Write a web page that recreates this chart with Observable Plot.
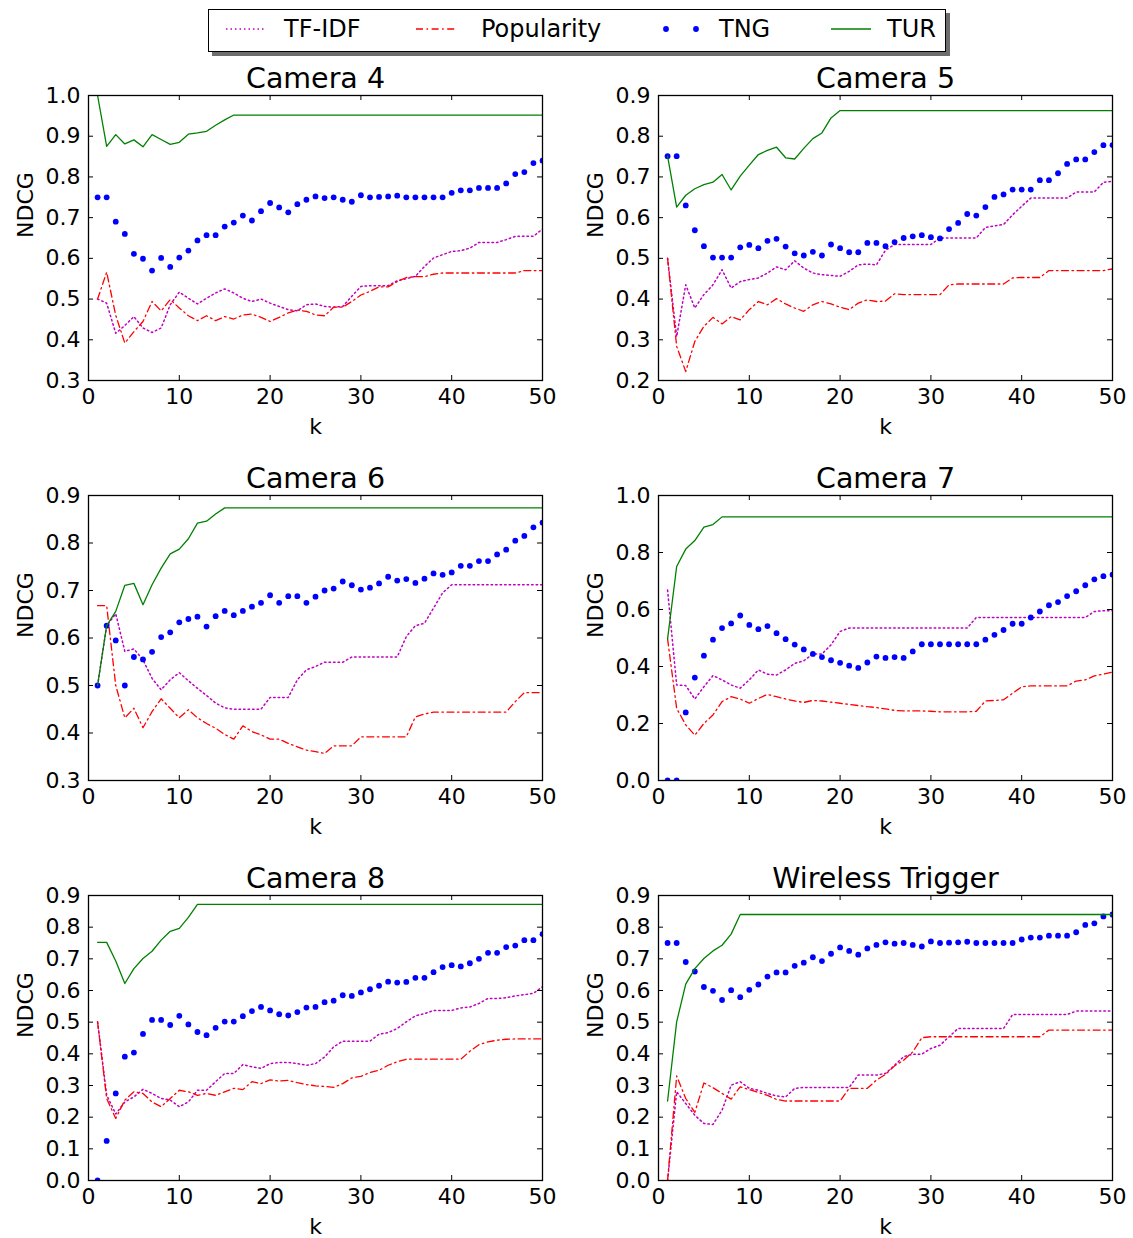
<!DOCTYPE html>
<html><head><meta charset="utf-8">
<script src="https://cdn.jsdelivr.net/npm/d3@7"></script>
<script src="https://cdn.jsdelivr.net/npm/@observablehq/plot@0.6"></script>
<style>
body{margin:0;background:#fff;}
#root{position:relative;width:1133px;height:1238px;font-family:"DejaVu Sans",sans-serif;background:#fff;overflow:hidden;}
.panel{position:absolute;z-index:1;}
#legend{position:absolute;z-index:10;left:208px;top:9px;width:736px;height:41px;border:1.3px solid #000;background:#fff;box-shadow:4px 4px 0 #6e6e6e;}
</style></head><body><div id="root"><div id="legend"></div></div>
<script>
const ks = d3.range(1, 51);
const xTicks = [0, 10, 20, 30, 40, 50];
const seriesNames = ["TF-IDF", "Popularity", "TNG", "TUR"];
const titles = ["Camera 4", "Camera 5", "Camera 6", "Camera 7", "Camera 8", "Wireless Trigger"];

// Camera 4
const cam4TfIdf = [0.50,0.49,0.416,0.435,0.457,0.429,0.418,0.429,0.486,0.517,0.502,0.488,0.502,0.515,0.525,0.515,0.502,0.494,0.50,0.49,0.482,0.474,0.471,0.486,0.488,0.482,0.48,0.482,0.507,0.531,0.533,0.533,0.533,0.545,0.55,0.556,0.58,0.601,0.609,0.617,0.619,0.625,0.639,0.639,0.639,0.646,0.654,0.654,0.654,0.672];
const cam4Pop = [0.50,0.566,0.46,0.392,0.42,0.445,0.494,0.471,0.499,0.478,0.459,0.447,0.459,0.447,0.457,0.451,0.461,0.463,0.455,0.445,0.455,0.466,0.473,0.47,0.461,0.459,0.48,0.48,0.494,0.51,0.519,0.53,0.53,0.543,0.553,0.555,0.555,0.561,0.564,0.564,0.564,0.564,0.564,0.564,0.564,0.564,0.564,0.57,0.57,0.57];
const cam4Tng = [0.75,0.75,0.69,0.66,0.611,0.599,0.57,0.601,0.579,0.602,0.619,0.644,0.657,0.657,0.678,0.688,0.705,0.693,0.716,0.736,0.725,0.713,0.733,0.744,0.752,0.748,0.75,0.744,0.739,0.755,0.75,0.751,0.752,0.754,0.75,0.75,0.75,0.75,0.75,0.761,0.767,0.767,0.773,0.773,0.773,0.784,0.807,0.812,0.834,0.84];
const cam4Tur = [1.0,0.875,0.904,0.881,0.891,0.874,0.904,0.892,0.88,0.885,0.905,0.908,0.912,0.927,0.94,0.952,0.952,0.952,0.952,0.952,0.952,0.952,0.952,0.952,0.952,0.952,0.952,0.952,0.952,0.952,0.952,0.952,0.952,0.952,0.952,0.952,0.952,0.952,0.952,0.952,0.952,0.952,0.952,0.952,0.952,0.952,0.952,0.952,0.952,0.952];
const cam4YTicks = [0.3,0.4,0.5,0.6,0.7,0.8,0.9,1.0];

// Camera 5
const cam5TfIdf = [0.50,0.308,0.435,0.378,0.411,0.435,0.472,0.427,0.443,0.448,0.452,0.464,0.479,0.472,0.494,0.476,0.464,0.46,0.458,0.456,0.468,0.484,0.486,0.484,0.52,0.534,0.534,0.534,0.534,0.534,0.55,0.55,0.55,0.55,0.55,0.576,0.58,0.583,0.607,0.628,0.648,0.648,0.648,0.648,0.648,0.663,0.663,0.663,0.687,0.689];
const cam5Pop = [0.50,0.284,0.222,0.296,0.333,0.355,0.339,0.357,0.349,0.374,0.394,0.386,0.401,0.388,0.378,0.37,0.386,0.394,0.388,0.38,0.374,0.39,0.398,0.394,0.395,0.413,0.411,0.411,0.411,0.411,0.411,0.435,0.437,0.437,0.437,0.437,0.437,0.437,0.452,0.453,0.453,0.453,0.47,0.47,0.47,0.47,0.47,0.47,0.47,0.474];
const cam5Tng = [0.751,0.751,0.63,0.569,0.53,0.502,0.502,0.502,0.527,0.533,0.525,0.543,0.548,0.529,0.512,0.507,0.516,0.507,0.534,0.525,0.515,0.515,0.538,0.538,0.53,0.54,0.55,0.554,0.557,0.552,0.549,0.572,0.587,0.609,0.605,0.626,0.651,0.657,0.669,0.669,0.669,0.692,0.692,0.709,0.732,0.743,0.743,0.761,0.778,0.778];
const cam5Tur = [0.751,0.626,0.655,0.671,0.681,0.687,0.706,0.668,0.702,0.729,0.755,0.765,0.773,0.747,0.744,0.77,0.794,0.808,0.845,0.863,0.863,0.863,0.863,0.863,0.863,0.863,0.863,0.863,0.863,0.863,0.863,0.863,0.863,0.863,0.863,0.863,0.863,0.863,0.863,0.863,0.863,0.863,0.863,0.863,0.863,0.863,0.863,0.863,0.863,0.863];
const cam5YTicks = [0.2,0.3,0.4,0.5,0.6,0.7,0.8,0.9];

// Camera 6
const cam6TfIdf = [0.50,0.626,0.651,0.572,0.577,0.554,0.515,0.491,0.512,0.527,0.51,0.494,0.479,0.463,0.453,0.45,0.45,0.45,0.45,0.475,0.475,0.475,0.512,0.533,0.54,0.549,0.549,0.549,0.56,0.56,0.56,0.56,0.56,0.56,0.603,0.626,0.631,0.663,0.695,0.712,0.712,0.712,0.712,0.712,0.712,0.712,0.712,0.712,0.712,0.712];
const cam6Pop = [0.668,0.668,0.50,0.432,0.452,0.411,0.445,0.472,0.452,0.432,0.449,0.432,0.42,0.41,0.397,0.387,0.415,0.403,0.396,0.387,0.387,0.378,0.371,0.364,0.361,0.357,0.373,0.373,0.373,0.392,0.392,0.392,0.392,0.392,0.392,0.434,0.44,0.444,0.444,0.444,0.444,0.444,0.444,0.444,0.444,0.444,0.466,0.485,0.485,0.485];
const cam6Tng = [0.50,0.626,0.595,0.50,0.56,0.555,0.571,0.602,0.612,0.633,0.64,0.645,0.624,0.646,0.657,0.648,0.657,0.666,0.674,0.69,0.674,0.688,0.688,0.674,0.687,0.70,0.704,0.719,0.711,0.702,0.706,0.715,0.729,0.721,0.724,0.716,0.725,0.736,0.733,0.738,0.752,0.752,0.762,0.762,0.776,0.786,0.805,0.815,0.833,0.843];
const cam6Tur = [0.50,0.626,0.656,0.711,0.715,0.67,0.712,0.747,0.777,0.787,0.809,0.842,0.846,0.861,0.874,0.874,0.874,0.874,0.874,0.874,0.874,0.874,0.874,0.874,0.874,0.874,0.874,0.874,0.874,0.874,0.874,0.874,0.874,0.874,0.874,0.874,0.874,0.874,0.874,0.874,0.874,0.874,0.874,0.874,0.874,0.874,0.874,0.874,0.874,0.874];
const cam6YTicks = [0.3,0.4,0.5,0.6,0.7,0.8,0.9];

// Camera 7
const cam7TfIdf = [0.668,0.335,0.333,0.286,0.329,0.368,0.353,0.335,0.324,0.353,0.388,0.373,0.37,0.388,0.411,0.42,0.444,0.444,0.476,0.523,0.535,0.535,0.535,0.535,0.535,0.535,0.535,0.535,0.535,0.535,0.535,0.535,0.535,0.535,0.572,0.572,0.572,0.572,0.572,0.572,0.572,0.572,0.572,0.572,0.572,0.572,0.572,0.593,0.596,0.596];
const cam7Pop = [0.497,0.253,0.195,0.159,0.20,0.23,0.277,0.294,0.286,0.271,0.288,0.302,0.294,0.286,0.279,0.274,0.281,0.279,0.275,0.271,0.267,0.263,0.259,0.256,0.251,0.246,0.244,0.244,0.244,0.243,0.241,0.241,0.241,0.241,0.243,0.279,0.281,0.283,0.306,0.329,0.332,0.332,0.332,0.332,0.332,0.349,0.353,0.367,0.373,0.38];
const cam7Tng = [0,0,0.239,0.361,0.438,0.494,0.535,0.551,0.579,0.546,0.531,0.542,0.517,0.496,0.477,0.46,0.444,0.433,0.422,0.413,0.403,0.395,0.414,0.435,0.43,0.433,0.43,0.453,0.478,0.478,0.478,0.478,0.478,0.478,0.478,0.494,0.511,0.528,0.55,0.55,0.572,0.593,0.615,0.626,0.647,0.664,0.685,0.706,0.717,0.722];
const cam7Tur = [0.497,0.751,0.812,0.842,0.889,0.898,0.925,0.925,0.925,0.925,0.925,0.925,0.925,0.925,0.925,0.925,0.925,0.925,0.925,0.925,0.925,0.925,0.925,0.925,0.925,0.925,0.925,0.925,0.925,0.925,0.925,0.925,0.925,0.925,0.925,0.925,0.925,0.925,0.925,0.925,0.925,0.925,0.925,0.925,0.925,0.925,0.925,0.925,0.925,0.925];
const cam7YTicks = [0.0,0.2,0.4,0.6,0.8,1.0];

// Camera 8
const cam8TfIdf = [0.501,0.27,0.21,0.248,0.264,0.288,0.275,0.259,0.254,0.233,0.248,0.285,0.285,0.312,0.338,0.338,0.366,0.359,0.354,0.369,0.373,0.373,0.369,0.364,0.369,0.39,0.422,0.44,0.44,0.44,0.44,0.462,0.467,0.48,0.501,0.52,0.527,0.537,0.537,0.537,0.545,0.548,0.559,0.575,0.575,0.577,0.583,0.587,0.591,0.612];
const cam8Pop = [0.501,0.259,0.196,0.254,0.28,0.275,0.248,0.233,0.259,0.285,0.28,0.269,0.275,0.269,0.28,0.291,0.287,0.312,0.306,0.318,0.314,0.316,0.309,0.303,0.299,0.297,0.294,0.306,0.324,0.329,0.341,0.348,0.364,0.375,0.383,0.383,0.383,0.383,0.383,0.383,0.383,0.408,0.429,0.438,0.443,0.446,0.447,0.447,0.447,0.447];
const cam8Tng = [0,0.125,0.275,0.391,0.404,0.463,0.507,0.507,0.491,0.52,0.493,0.469,0.459,0.482,0.502,0.502,0.519,0.535,0.548,0.537,0.525,0.521,0.532,0.546,0.548,0.563,0.568,0.585,0.583,0.594,0.604,0.615,0.628,0.625,0.627,0.64,0.64,0.658,0.674,0.68,0.676,0.686,0.70,0.719,0.719,0.737,0.742,0.759,0.759,0.778];
const cam8Tur = [0.752,0.752,0.693,0.622,0.669,0.701,0.724,0.759,0.787,0.796,0.831,0.872,0.872,0.872,0.872,0.872,0.872,0.872,0.872,0.872,0.872,0.872,0.872,0.872,0.872,0.872,0.872,0.872,0.872,0.872,0.872,0.872,0.872,0.872,0.872,0.872,0.872,0.872,0.872,0.872,0.872,0.872,0.872,0.872,0.872,0.872,0.872,0.872,0.872,0.872];
const cam8YTicks = [0.0,0.1,0.2,0.3,0.4,0.5,0.6,0.7,0.8,0.9];

// Wireless Trigger
const wtTfIdf = [0,0.28,0.243,0.206,0.18,0.177,0.222,0.301,0.312,0.291,0.285,0.275,0.267,0.264,0.291,0.294,0.294,0.294,0.294,0.294,0.294,0.333,0.333,0.333,0.338,0.364,0.391,0.399,0.399,0.417,0.427,0.454,0.48,0.48,0.48,0.48,0.48,0.48,0.524,0.524,0.524,0.524,0.524,0.524,0.524,0.535,0.535,0.535,0.535,0.535];
const wtPop = [0,0.33,0.259,0.215,0.308,0.293,0.275,0.257,0.296,0.287,0.278,0.269,0.256,0.251,0.251,0.251,0.251,0.251,0.251,0.251,0.291,0.291,0.291,0.317,0.335,0.362,0.38,0.406,0.451,0.454,0.454,0.454,0.454,0.454,0.454,0.454,0.454,0.454,0.454,0.454,0.454,0.454,0.475,0.475,0.475,0.475,0.475,0.475,0.475,0.475];
const wtTng = [0.75,0.75,0.69,0.66,0.611,0.599,0.57,0.601,0.579,0.602,0.619,0.644,0.657,0.657,0.678,0.688,0.705,0.693,0.716,0.736,0.725,0.713,0.733,0.744,0.752,0.748,0.75,0.744,0.739,0.755,0.75,0.751,0.752,0.754,0.75,0.75,0.75,0.75,0.75,0.761,0.767,0.767,0.773,0.773,0.773,0.784,0.807,0.812,0.834,0.84];
const wtTur = [0.251,0.501,0.62,0.669,0.701,0.725,0.743,0.778,0.84,0.84,0.84,0.84,0.84,0.84,0.84,0.84,0.84,0.84,0.84,0.84,0.84,0.84,0.84,0.84,0.84,0.84,0.84,0.84,0.84,0.84,0.84,0.84,0.84,0.84,0.84,0.84,0.84,0.84,0.84,0.84,0.84,0.84,0.84,0.84,0.84,0.84,0.84,0.84,0.84,0.84];
const wtYTicks = [0.0,0.1,0.2,0.3,0.4,0.5,0.6,0.7,0.8,0.9];

const COL = {tfidf: "#bf00bf", pop: "#ff0000", tng: "#0000ff", tur: "#008000"};
const DASH_TFIDF = "1.5,3";
const DASH_POP = "7,3.5,1.6,3.5";

const panels = [
  {title: titles[0], tfidf: cam4TfIdf, pop: cam4Pop, tng: cam4Tng, tur: cam4Tur, yTicks: cam4YTicks, left: 88, top: 95},
  {title: titles[1], tfidf: cam5TfIdf, pop: cam5Pop, tng: cam5Tng, tur: cam5Tur, yTicks: cam5YTicks, left: 658, top: 95},
  {title: titles[2], tfidf: cam6TfIdf, pop: cam6Pop, tng: cam6Tng, tur: cam6Tur, yTicks: cam6YTicks, left: 88, top: 495},
  {title: titles[3], tfidf: cam7TfIdf, pop: cam7Pop, tng: cam7Tng, tur: cam7Tur, yTicks: cam7YTicks, left: 658, top: 495},
  {title: titles[4], tfidf: cam8TfIdf, pop: cam8Pop, tng: cam8Tng, tur: cam8Tur, yTicks: cam8YTicks, left: 88, top: 895},
  {title: titles[5], tfidf: wtTfIdf, pop: wtPop, tng: wtTng, tur: wtTur, yTicks: wtYTicks, left: 658, top: 895}
];

const root = document.getElementById("root");
const W = 454, H = 285, mL = 85, mR = 14, mT = 40, mB = 56;

for (const p of panels) {
  const rows = arr => ks.map((k, i) => ({k, v: arr[i]}));
  const yDom = [p.yTicks[0], p.yTicks[p.yTicks.length - 1]];
  const chart = Plot.plot({
    width: mL + W + mR,
    height: mT + H + mB,
    marginLeft: mL, marginRight: mR, marginTop: mT, marginBottom: mB,
    style: {fontFamily: "DejaVu Sans", color: "#000", background: "transparent", overflow: "visible"},
    x: {domain: [0, 50]},
    y: {domain: yDom},
    marks: [
      Plot.line(rows(p.tfidf), {x: "k", y: "v", stroke: COL.tfidf, strokeWidth: 1.5, strokeDasharray: DASH_TFIDF, clip: true}),
      Plot.line(rows(p.pop), {x: "k", y: "v", stroke: COL.pop, strokeWidth: 1.3, strokeDasharray: DASH_POP, clip: true}),
      Plot.dot(rows(p.tng), {x: "k", y: "v", fill: COL.tng, r: 2.9, stroke: "none", clip: true}),
      Plot.line(rows(p.tur), {x: "k", y: "v", stroke: COL.tur, strokeWidth: 1.3, clip: true}),
      Plot.tickX(xTicks, {x: d => d, insetTop: H - 5, stroke: "#000", strokeWidth: 1}),
      Plot.tickX(xTicks, {x: d => d, insetBottom: H - 5, stroke: "#000", strokeWidth: 1}),
      Plot.tickY(p.yTicks, {y: d => d, insetRight: W - 5, stroke: "#000", strokeWidth: 1}),
      Plot.tickY(p.yTicks, {y: d => d, insetLeft: W - 5, stroke: "#000", strokeWidth: 1}),
      Plot.frame({stroke: "#000", strokeWidth: 1.3}),
      Plot.axisX(xTicks, {tickSize: 0, tickPadding: 8, fontSize: 22, label: null, tickFormat: d => String(d)}),
      Plot.axisY(p.yTicks, {tickSize: 0, tickPadding: 8, fontSize: 22, label: null, tickFormat: d => d.toFixed(1)}),
      Plot.text([p.title], {text: d => d, frameAnchor: "top", lineAnchor: "middle", dy: -17, fontSize: 28.5}),
      Plot.text(["k"], {text: d => d, frameAnchor: "bottom", lineAnchor: "middle", dy: 46, fontSize: 22}),
      Plot.text(["NDCG"], {text: d => d, frameAnchor: "left", lineAnchor: "middle", dx: -63, rotate: -90, fontSize: 22})
    ]
  });
  const div = document.createElement("div");
  div.className = "panel";
  div.style.left = (p.left - mL) + "px";
  div.style.top = (p.top - mT) + "px";
  div.appendChild(chart);
  root.appendChild(div);
}

// Legend (above the panels)
const legendItems = [
  {name: seriesNames[0], kind: "line", color: COL.tfidf, dash: DASH_TFIDF, w: 1.5, x0: 17, text: 75},
  {name: seriesNames[1], kind: "line", color: COL.pop, dash: DASH_POP, w: 1.3, x0: 207, text: 272},
  {name: seriesNames[2], kind: "dots", color: COL.tng, dash: null, w: 0, x0: 452, text: 510},
  {name: seriesNames[3], kind: "line", color: COL.tur, dash: null, w: 1.3, x0: 622, text: 678}
];
const ns = "http://www.w3.org/2000/svg";
const lsvg = document.createElementNS(ns, "svg");
lsvg.setAttribute("width", 736); lsvg.setAttribute("height", 41);
lsvg.style.fontFamily = "DejaVu Sans";
for (const it of legendItems) {
  if (it.kind === "line") {
    const l = document.createElementNS(ns, "line");
    l.setAttribute("x1", it.x0); l.setAttribute("x2", it.x0 + 40);
    l.setAttribute("y1", 19); l.setAttribute("y2", 19);
    l.setAttribute("stroke", it.color); l.setAttribute("stroke-width", it.w);
    if (it.dash) l.setAttribute("stroke-dasharray", it.dash);
    lsvg.appendChild(l);
  } else {
    for (const cx of [it.x0 + 5, it.x0 + 35]) {
      const c = document.createElementNS(ns, "circle");
      c.setAttribute("cx", cx); c.setAttribute("cy", 19); c.setAttribute("r", 2.9);
      c.setAttribute("fill", it.color);
      lsvg.appendChild(c);
    }
  }
  const t = document.createElementNS(ns, "text");
  t.setAttribute("x", it.text); t.setAttribute("y", 19);
  t.setAttribute("dominant-baseline", "central");
  t.setAttribute("font-size", 24);
  t.textContent = it.name;
  lsvg.appendChild(t);
}
document.getElementById("legend").appendChild(lsvg);
</script>
</body></html>
